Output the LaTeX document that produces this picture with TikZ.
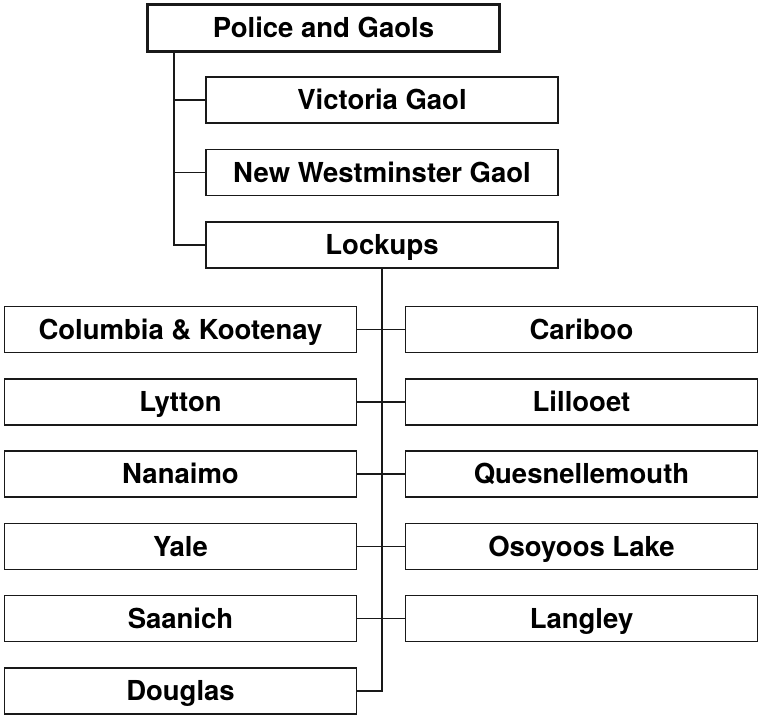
\documentclass[tikz,border=0pt]{standalone}
\usepackage{fontspec}
\setmainfont{TeX Gyre Heros}
\usetikzlibrary{positioning}
\tikzset{
  unit/.style={draw=black!90,line width=1.5bp,minimum width=352bp,minimum height=46bp,
    inner sep=0pt,text height=19.7bp,text depth=0pt,
    font=\fontsize{27.5bp}{33bp}\selectfont\bfseries},
  headunit/.style={unit,line width=2.8bp,minimum height=47bp},
  link/.style={line width=1.5bp,black!90},
}
\begin{document}
\begin{tikzpicture}[x=1bp,y=-1bp]
  \useasboundingbox (0,0) rectangle (758,717);
  % head office and its two gaols
  \node[headunit] (police) at (323.5,28) {Police and Gaols};
  \node[unit] (victoria) at (382,100) {Victoria Gaol};
  \node[unit] (newwest) at (382,172.5) {New Westminster Gaol};
  \node[unit] (lockups) at (382,245) {Lockups};
  \draw[link] ([xshift=28bp]police.south west) |- (lockups.west);
  \draw[link] ([xshift=28bp]police.south west) |- (victoria.west);
  \draw[link] ([xshift=28bp]police.south west) |- (newwest.west);
  % lockups, left column
  \node[unit] (columbia) at (180.5,329.5) {Columbia \& Kootenay};
  \node[unit] (lytton) at (180.5,401.8) {Lytton};
  \node[unit] (nanaimo) at (180.5,474.1) {Nanaimo};
  \node[unit] (yale) at (180.5,546.4) {Yale};
  \node[unit] (saanich) at (180.5,618.7) {Saanich};
  \node[unit] (douglas) at (180.5,691) {Douglas};
  % lockups, right column
  \node[unit] (cariboo) at (581.5,329.5) {Cariboo};
  \node[unit] (lillooet) at (581.5,401.8) {Lillooet};
  \node[unit] (quesnel) at (581.5,474.1) {Quesnellemouth};
  \node[unit] (osoyoos) at (581.5,546.4) {Osoyoos Lake};
  \node[unit] (langley) at (581.5,618.7) {Langley};
  % trunk and cross links
  \draw[link] (lockups.south) |- (douglas.east);
  \draw[link] (columbia.east) -- (cariboo.west);
  \draw[link] (lytton.east) -- (lillooet.west);
  \draw[link] (nanaimo.east) -- (quesnel.west);
  \draw[link] (yale.east) -- (osoyoos.west);
  \draw[link] (saanich.east) -- (langley.west);
\end{tikzpicture}
\end{document}
